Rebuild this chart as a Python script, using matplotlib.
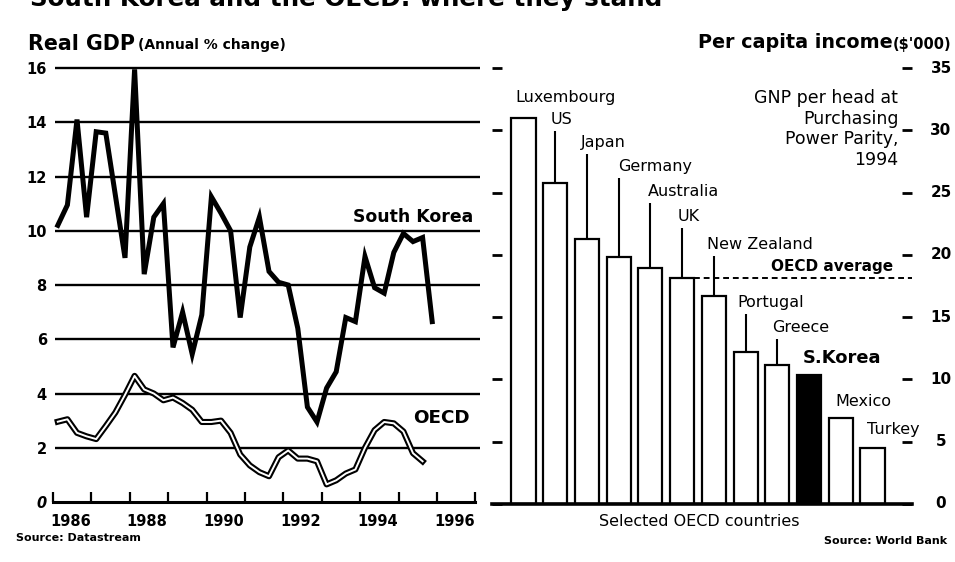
import numpy as np
import matplotlib
matplotlib.use('Agg')
import matplotlib.pyplot as plt

plt.rcParams['font.family'] = ['DejaVu Sans']

# Real GDP, annual % change, quarterly from 1986 Q1
korea_gdp = [10.2, 10.95, 14.1, 10.5, 13.65, 13.6, 11.3, 9.0, 15.95, 8.4,
             10.5, 11.0, 5.7, 7.0, 5.45, 6.9, 11.25, 10.65, 10.0, 6.8,
             9.4, 10.5, 8.5, 8.1, 8.0, 6.4, 3.5, 2.95, 4.2, 4.8,
             6.8, 6.65, 9.05, 7.9, 7.7, 9.2, 9.9, 9.6, 9.75, 6.65]
oecd_gdp = [2.96, 3.05, 2.55, 2.42, 2.32, 2.8, 3.3, 3.95, 4.65, 4.15,
            4.0, 3.75, 3.85, 3.65, 3.4, 2.95, 2.95, 3.0, 2.55, 1.75,
            1.35, 1.1, 0.95, 1.65, 1.9, 1.6, 1.6, 1.5, 0.65, 0.8,
            1.05, 1.2, 2.0, 2.65, 2.95, 2.9, 2.6, 1.8, 1.5]
year_labels = ['1986', '1988', '1990', '1992', '1994', '1996']
gdp_ticks = [0, 2, 4, 6, 8, 10, 12, 14, 16]

# GNP per head at PPP, 1994, $'000
countries = ['Luxembourg', 'US', 'Japan', 'Germany', 'Australia', 'UK',
             'New Zealand', 'Portugal', 'Greece', 'S.Korea', 'Mexico', 'Turkey']
income = [31.0, 25.8, 21.3, 19.8, 18.95, 18.15, 16.7, 12.2, 11.15, 10.35, 6.9, 4.5]
oecd_average = 18.15
income_ticks = [0, 5, 10, 15, 20, 25, 30, 35]

# quarter mid-points as decimal years
q_korea = 1986.125 + 0.25 * np.arange(len(korea_gdp))
q_oecd = 1986.125 + 0.25 * np.arange(len(oecd_gdp))

fig = plt.figure(figsize=(9.55, 5.62), dpi=100)

W, H = 955, 562
def box(x0, y0, x1, y1):
    return [x0 / W, 1 - y1 / H, (x1 - x0) / W, (y1 - y0) / H]

# ---- left panel: real GDP ----
ax = fig.add_axes(box(53, 68, 480, 502))
ax.set_xlim(1986, 1986 + 427 / 38.4)
ax.set_ylim(0, 16)
for s in ['top', 'right', 'left']:
    ax.spines[s].set_visible(False)
ax.spines['bottom'].set_linewidth(2.2)
ax.spines['bottom'].set_bounds(1986, 1997)

xmax = ax.get_xlim()[1]
for g in gdp_ticks[1:]:
    ax.hlines(g, 1986.05, xmax, color='black', lw=1.7, clip_on=False, zorder=1)

ax.plot(q_korea, korea_gdp, color='black', lw=3.6, solid_joinstyle='miter',
        clip_on=False, zorder=3)
ax.plot(q_oecd, oecd_gdp, color='black', lw=4.4, clip_on=False, zorder=3)
ax.plot(q_oecd, oecd_gdp, color='white', lw=1.4, clip_on=False, zorder=4)

ax.set_xticks(range(1986, 1998))
ax.set_xticklabels([])
ax.tick_params(axis='x', which='major', direction='in', length=7, width=1.6)
ax.set_xticks([int(y) + 0.45 for y in year_labels], minor=True)
ax.set_xticklabels(year_labels, minor=True, fontsize=10.5, fontweight='bold')
ax.tick_params(axis='x', which='minor', length=0, pad=9)

ax.set_yticks(gdp_ticks)
ax.set_yticklabels([str(t) for t in gdp_ticks], fontsize=10.5, fontweight='bold')
ax.get_yticklabels()[0].set_fontstyle('oblique')
ax.tick_params(axis='y', length=0, pad=4.5)

ax.text(1993.8, 10.5, 'South Korea', fontsize=12.4, fontweight='bold', va='center')
ax.text(1995.38, 3.1, 'OECD', fontsize=13.2, fontweight='bold', va='center')

fig.text(28 / W, 1 - 44 / H, 'Real GDP', fontsize=14.8, fontweight='bold', va='center')
fig.text(138 / W, 1 - 45 / H, '(Annual % change)', fontsize=10, fontweight='bold', va='center')
fig.text(16 / W, 1 - 538 / H, 'Source: Datastream', fontsize=8, fontweight='bold', va='center')

# ---- right panel: per capita income ----
bx = fig.add_axes(box(492, 68, 912, 504))
ax_l = (492 - 523.5) / 31.73
ax_r = (912 - 523.5) / 31.73
bx.set_xlim(ax_l, ax_r)
bx.set_ylim(0, 35)
for s in ['top', 'right', 'left']:
    bx.spines[s].set_visible(False)
bx.spines['bottom'].set_linewidth(2.6)

idx = np.arange(len(countries))
colors = ['black' if c == 'S.Korea' else 'white' for c in countries]
bx.bar(idx, income, width=0.76, color=colors, edgecolor='black', lw=1.6, zorder=2)

bx.hlines(oecd_average, 5.38, ax_r, color='black', lw=1.4,
          linestyles=(0, (3, 2)), zorder=3)
bx.text(ax_r - 0.6, oecd_average + 0.9, 'OECD average', fontsize=11,
        fontweight='bold', ha='right', va='center')

# country labels, some with leader lines down to the bar
label_dx = [-0.27, -0.16, -0.19, -0.02, -0.08, -0.13, -0.22, -0.27, -0.17, -0.19, -0.18, -0.17]
label_y = [32.6, 30.85, 29.0, 27.07, 25.06, 23.05, 20.8, 16.14, 14.14, 11.73, 8.19, 6.02]
leader = [False, True, True, True, True, True, True, True, True, False, False, False]
for i, name in enumerate(countries):
    if name == 'S.Korea':
        bx.text(i + label_dx[i], label_y[i], name, fontsize=12.9, fontweight='bold',
                va='center', ha='left')
    else:
        bx.text(i + label_dx[i], label_y[i], name, fontsize=11.5, va='center', ha='left')
    if leader[i]:
        bx.vlines(i, income[i], label_y[i] - 0.9, color='black', lw=1.5)

bx.set_yticks(income_ticks)
bx.set_yticklabels([])
bx.set_xticks([])
bx.tick_params(axis='y', left=True, right=True, labelleft=False, labelright=False,
               direction='in', length=7, width=2)
for t in income_ticks:
    bx.text(1 + 29 / 420, t, str(t), transform=bx.get_yaxis_transform(),
            fontsize=10.9, fontweight='bold', ha='center', va='center')

bx.text(ax_r - 0.43, 30.1, 'GNP per head at\nPurchasing\nPower Parity,\n1994',
        fontsize=12.5, ha='right', va='center', linespacing=1.2)

fig.text(698 / W, 1 - 43 / H, 'Per capita income', fontsize=13.8, fontweight='bold', va='center')
fig.text(893 / W, 1 - 44 / H, "($'000)", fontsize=10.5, fontweight='bold', va='center')
fig.text(699 / W, 1 - 522 / H, 'Selected OECD countries', fontsize=11.5, ha='center', va='center')
fig.text(947 / W, 1 - 541 / H, 'Source: World Bank', fontsize=8, fontweight='bold',
         ha='right', va='center')

# headline, only its lower part fits in the frame
fig.text(30 / W, 1 - 6 / H, 'South Korea and the OECD: where they stand',
         fontsize=17.7, fontweight='bold', va='baseline')

fig.savefig('out.png', dpi=100, facecolor='white')
